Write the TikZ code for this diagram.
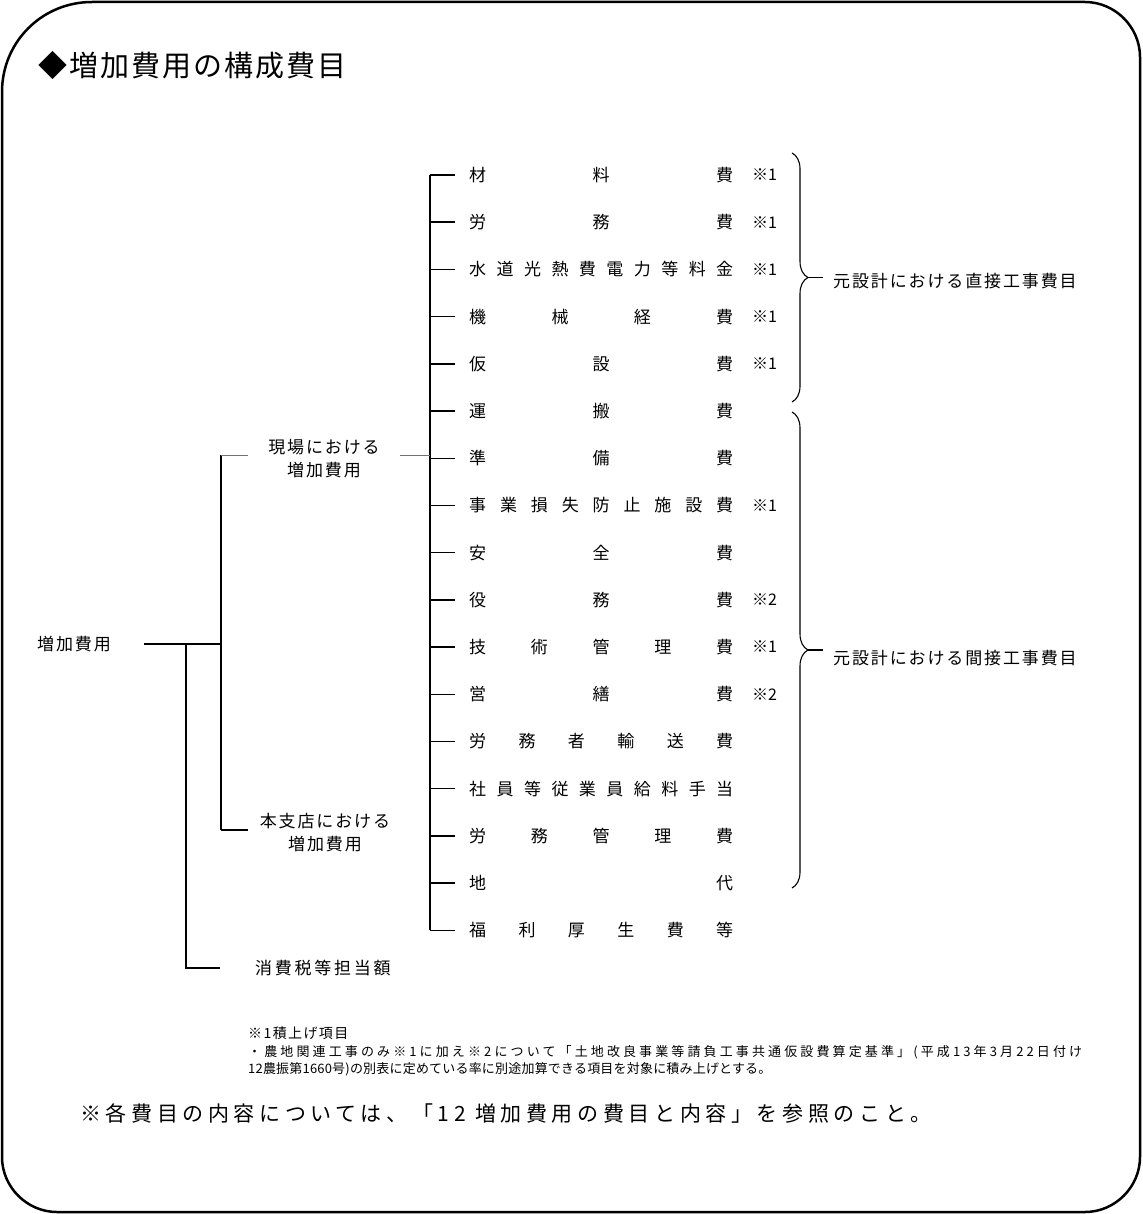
\documentclass[tikz,border=0pt]{standalone}
\usepackage{fontspec}
\setmainfont{Noto Sans CJK JP}
\usetikzlibrary{decorations.pathreplacing}
\begin{document}
\begin{tikzpicture}[x=1pt,y=-1pt,
  item/.style={anchor=west, inner sep=0pt, font=\fontsize{17}{19}\selectfont},
  notemk/.style={anchor=west, inner sep=0pt, font=\fontsize{16}{18}\selectfont},
  lbl/.style={inner sep=0pt, align=center, font=\fontsize{17}{23}\selectfont\addfontfeature{LetterSpace=11}},
  tick/.style={line width=1.4pt},
  bus/.style={line width=2.6pt},
  tree/.style={line width=1.6pt},
  thinline/.style={line width=0.8pt, black!55},
  bracedeco/.style={line width=1.1pt, decorate, decoration={brace, amplitude=16pt}},
  frame/.style={line width=2.5pt}]
\useasboundingbox (0,0) rectangle (1142,1214);

% frame
\draw[frame] (2,92) .. controls (2,42) and (42,2) .. (92,2) -- (1085,2)
  .. controls (1115,2) and (1140,27) .. (1140,57) -- (1140,1157)
  .. controls (1140,1187) and (1115,1212) .. (1085,1212) -- (57,1212)
  .. controls (27,1212) and (2,1187) .. (2,1157) -- cycle;

% title
\node[anchor=west, inner sep=0pt, font=\fontsize{29}{32}\selectfont\addfontfeature{LetterSpace=7}] (title) at (38,65) {◆増加費用の構成費目};

% item rows
\node[item] (r1) at (469,175) {\hbox to 264pt{材\hfill 料\hfill 費}};
\node[item] (r2) at (469,222.2) {\hbox to 264pt{労\hfill 務\hfill 費}};
\node[item] (r3) at (469,269.4) {\hbox to 264pt{水\hfill 道\hfill 光\hfill 熱\hfill 費\hfill 電\hfill 力\hfill 等\hfill 料\hfill 金}};
\node[item] (r4) at (469,316.6) {\hbox to 264pt{機\hfill 械\hfill 経\hfill 費}};
\node[item] (r5) at (469,363.8) {\hbox to 264pt{仮\hfill 設\hfill 費}};
\node[item] (r6) at (469,411) {\hbox to 264pt{運\hfill 搬\hfill 費}};
\node[item] (r7) at (469,458.2) {\hbox to 264pt{準\hfill 備\hfill 費}};
\node[item] (r8) at (469,505.4) {\hbox to 264pt{事\hfill 業\hfill 損\hfill 失\hfill 防\hfill 止\hfill 施\hfill 設\hfill 費}};
\node[item] (r9) at (469,552.6) {\hbox to 264pt{安\hfill 全\hfill 費}};
\node[item] (r10) at (469,599.8) {\hbox to 264pt{役\hfill 務\hfill 費}};
\node[item] (r11) at (469,647) {\hbox to 264pt{技\hfill 術\hfill 管\hfill 理\hfill 費}};
\node[item] (r12) at (469,694.2) {\hbox to 264pt{営\hfill 繕\hfill 費}};
\node[item] (r13) at (469,741.4) {\hbox to 264pt{労\hfill 務\hfill 者\hfill 輸\hfill 送\hfill 費}};
\node[item] (r14) at (469,788.6) {\hbox to 264pt{社\hfill 員\hfill 等\hfill 従\hfill 業\hfill 員\hfill 給\hfill 料\hfill 手\hfill 当}};
\node[item] (r15) at (469,835.8) {\hbox to 264pt{労\hfill 務\hfill 管\hfill 理\hfill 費}};
\node[item] (r16) at (469,883) {\hbox to 264pt{地\hfill 代}};
\node[item] (r17) at (469,930.2) {\hbox to 264pt{福\hfill 利\hfill 厚\hfill 生\hfill 費\hfill 等}};

% notes ※
\node[notemk] (m1) at (752,175) {※1};
\node[notemk] (m2) at (752,222.2) {※1};
\node[notemk] (m3) at (752,269.4) {※1};
\node[notemk] (m4) at (752,316.6) {※1};
\node[notemk] (m5) at (752,363.8) {※1};
\node[notemk] (m8) at (752,505.4) {※1};
\node[notemk] (m10) at (752,599.8) {※2};
\node[notemk] (m11) at (752,647) {※1};
\node[notemk] (m12) at (752,694.2) {※2};

% bus and ticks
\coordinate (busTop) at (430,175);
\coordinate (busBot) at (430,930.2);
\draw[bus] (busTop) -- (busBot);
\foreach \i in {1,...,17} {
  \draw[tick] (busTop |- r\i.west) -- ([xshift=-14pt]r\i.west);
}

% left tree
\node[lbl, anchor=west] (root) at (37,644) {増加費用};
\node[lbl] (genba) at (324,459) {現場における\\増加費用};
\node[lbl] (hq) at (325,833) {本支店における\\増加費用};
\node[lbl, anchor=west, font=\fontsize{17}{19}\selectfont\addfontfeature{LetterSpace=16}] (tax) at (255,968) {消費税等担当額};

\coordinate (j0) at (186,644);
\coordinate (j1) at (221,644);
\coordinate (tTop) at (221,455);
\coordinate (tBot) at (221,830);
\draw[tree] ([xshift=33pt]root.east) -- (j1);
\draw[tree] (j0) |- ([xshift=-35pt]tax.west);
\draw[tree] (tTop) -- (tBot);
\draw[thinline] (tTop) -- ([xshift=-20pt]genba.west |- tTop);
\draw[thinline] ([xshift=20pt]genba.east |- tTop) -- (busTop |- tTop);
\draw[line width=2.4pt] (tBot) -- ([xshift=-12pt]hq.west |- tBot);

% braces
\coordinate (bAt) at (792,153);
\coordinate (bAb) at (792,402);
\coordinate (bBt) at (792,412);
\coordinate (bBb) at (792,888);
\draw[bracedeco] (bAt) -- (bAb);
\draw[bracedeco] (bBt) -- (bBb);
\coordinate (tipA) at (808,277.5);
\coordinate (tipB) at (808,650);
\node[lbl, anchor=west] (dA) at (833,281) {元設計における直接工事費目};
\node[lbl, anchor=west] (dB) at (833,658) {元設計における間接工事費目};
\draw[line width=1.1pt] (tipA) -- ([xshift=-10pt]dA.west |- tipA);
\draw[line width=1.1pt] (tipB) -- ([xshift=-10pt]dB.west |- tipB);

% footnotes
\node[anchor=west, inner sep=0pt, font=\fontsize{14}{16}\selectfont\addfontfeature{LetterSpace=10}] (f1) at (248,1033) {※1積上げ項目};
\node[anchor=west, inner sep=0pt, font=\fontsize{13}{15}\selectfont\addfontfeature{LetterSpace=24}] (f2) at (248,1052) {・農地関連工事のみ※1に加え※2について「土地改良事業等請負工事共通仮設費算定基準」(平成13年3月22日付け};
\node[anchor=west, inner sep=0pt, font=\fontsize{13}{15}\selectfont\addfontfeature{LetterSpace=1.5}] (f3) at (248,1069) {12農振第1660号)の別表に定めている率に別途加算できる項目を対象に積み上げとする。};
\node[anchor=west, inner sep=0pt, font=\fontsize{21}{24}\selectfont\addfontfeature{LetterSpace=22}] (f4) at (80,1113) {※各費目の内容については、「12 増加費用の費目と内容」を参照のこと。};
\end{tikzpicture}
\end{document}
